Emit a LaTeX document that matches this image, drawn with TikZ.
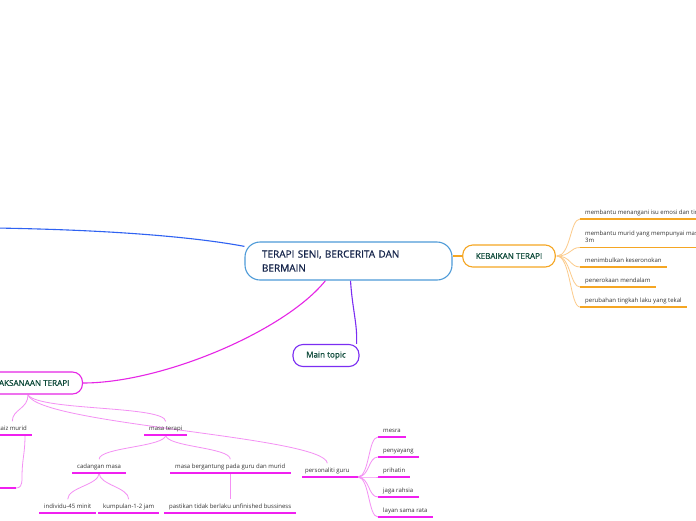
\documentclass[tikz,border=0pt]{standalone}
\usepackage{fontspec}
\setmainfont{Open Sans}
\newfontfamily\semib[FakeBold=0.7]{Open Sans}
\usetikzlibrary{calc}
\definecolor{blu}{HTML}{2F62F2}
\definecolor{cbord}{HTML}{4E9BD8}
\definecolor{ctext}{HTML}{15244A}
\definecolor{orn}{HTML}{F5A623}
\definecolor{ornbr}{HTML}{FCCB8A}
\definecolor{purp}{HTML}{7B2EF2}
\definecolor{mag}{HTML}{E626E6}
\definecolor{magul}{HTML}{F020F0}
\definecolor{magbr}{HTML}{F490F4}
\definecolor{boxtxt}{HTML}{0E4A3A}
\definecolor{leafc}{HTML}{333333}
\pgfdeclarelayer{back}
\pgfdeclarelayer{bg}
\pgfsetlayers{back,bg,main}
\tikzset{
  leaf/.style={font=\fontsize{6}{7.5}\selectfont, text=leafc, inner sep=0pt, anchor=base west},
  topicbox/.style={draw, line width=1.1pt, fill=white, rounded corners=10pt,
    font=\semib\fontsize{8.1}{9}\selectfont, text=boxtxt, inner xsep=13pt, inner ysep=0pt, minimum height=22pt},
  oul/.style={draw=orn, line width=1.3pt},
  obr/.style={draw=ornbr, line width=0.8pt},
  mul/.style={draw=magul, line width=1.3pt},
  mbr/.style={draw=magbr, line width=0.8pt},
}
\newcommand\underln[2]{\draw[#1] ([xshift=-5pt,yshift=-5pt]#2.base west) coordinate (#2-l) -- ([xshift=5pt,yshift=-5pt]#2.base east) coordinate (#2-r);}
\begin{document}
\begin{tikzpicture}[x=1pt,y=-1pt]
\useasboundingbox (0,0) rectangle (696,520);
\clip (0,0) rectangle (696,520);
\begin{pgfonlayer}{back}
\fill[white] (0,0) rectangle (696,520);
\end{pgfonlayer}

% central
\node[draw=cbord, line width=1.1pt, fill=white, rounded corners=15pt, text width=173pt, align=left,
  inner xsep=17pt, minimum height=38pt, font=\semib\fontsize{10}{14}\selectfont, text=ctext] (c) at (348.5,261)
  {TERAPI SENI, BERCERITA DAN\\BERMAIN};

% main branches
\node[topicbox, draw=orn, minimum width=92pt] (kb) at (509,256) {KEBAIKAN TERAPI};
\node[topicbox, draw=purp, minimum width=66pt] (mt) at (326,355.5) {Main topic};
\node[topicbox, draw=mag, anchor=east] (pl) at (83,383) {PELAKSANAAN TERAPI};
\coordinate (offl) at (-5,228);
\coordinate (plj) at (28,395);

% kebaikan leaves
\node[leaf] (k1) at (585,214) {membantu menangani isu emosi dan tingkah laku};
\node[leaf] (k2) at (585,235) {membantu murid yang mempunyai masalah};
\node[leaf] (k2b) at (585,242.5) {3m};
\node[leaf] (k3) at (585,262) {menimbulkan keseronokan};
\node[leaf] (k4) at (585,282) {penerokaan mendalam};
\node[leaf] (k5) at (585,302) {perubahan tingkah laku yang tekal};
\underln{oul}{k1}
\draw[oul] ([xshift=-5pt,yshift=-5pt]k2b.base west) coordinate (k2b-l) -- ++(130,0);
\underln{oul}{k3}
\underln{oul}{k4}
\underln{oul}{k5}

% pelaksanaan subtree
\node[leaf, anchor=base east] (sz) at (27,430) {saiz murid};
\node[leaf] (mtp) at (149,430) {masa terapi};
\node[leaf] (pg) at (305,472) {personaliti guru};
\node[leaf] (cm) at (77,468) {cadangan masa};
\node[leaf] (mb) at (175,468) {masa bergantung pada guru dan murid};
\node[leaf] (i1) at (44,508) {individu-45 minit};
\node[leaf] (i2) at (103,508) {kumpulan-1-2 jam};
\node[leaf] (pt) at (169,508) {pastikan tidak berlaku unfinished bussiness};
\node[leaf] (p1) at (383,432) {mesra};
\node[leaf] (p2) at (383,452) {penyayang};
\node[leaf] (p3) at (383,472) {prihatin};
\node[leaf] (p4) at (383,492) {jaga rahsia};
\node[leaf] (p5) at (383,512) {layan sama rata};
\underln{mul}{sz}
\underln{mul}{mtp}
\draw[mul] ([xshift=-3pt,yshift=-5pt]pg.base west) coordinate (pg-l) -- ([xshift=8pt,yshift=-5pt]pg.base east) coordinate (pg-r);
\underln{mul}{cm}
\underln{mul}{mb}
\underln{mul}{i1}
\underln{mul}{i2}
\underln{mul}{pt}
\underln{mul}{p1}
\underln{mul}{p2}
\underln{mul}{p3}
\underln{mul}{p4}
\underln{mul}{p5}
\coordinate (szc) at (16,488);
\draw[mul] (szc) -- (-5,488);

\begin{pgfonlayer}{bg}
  % main connectors
  \draw[blu, line width=1.1pt] (offl) .. controls (120,230) and (200,238) .. (c.172);
  \draw[orn, line width=1.1pt] (kb.west -| c.east) -- (kb.west);
  \draw[purp, line width=1.1pt] ([xshift=2pt]c.south) .. controls +(2,30) and +(1,-20) .. ([xshift=-3pt]mt.north east);
  \draw[mag, line width=1.1pt] ([xshift=-23pt]c.south) .. controls +(-40,50) and +(80,0) .. (pl.east);
  % kebaikan branches
  \foreach \n in {k1,k2b,k3,k4,k5}
    \draw[obr] ([xshift=1pt]kb.east) .. controls +(14,0) and +(-10,0) .. (\n-l);
  % pelaksanaan branches
  \draw[mbr] (plj) .. controls +(0,14) and +(0,-12) .. ([yshift=4pt]sz.north);
  \draw[mbr] (plj) .. controls +(12,16) and +(-1,-16) .. ([yshift=4pt]mtp.north);
  \draw[mbr] (plj) .. controls +(12,30) and +(-3,-27) .. ([yshift=4pt]pg.north);
  \draw[mbr] ([xshift=-7pt]sz-r) .. controls +(0,20) and +(0,-20) .. ($(szc)+(6,-10)$) .. controls +(0,8) and +(4,0) .. (szc);
  \coordinate (mtpm) at ($(mtp-l)!0.5!(mtp-r)$);
  \draw[mbr] (mtpm) .. controls +(0,12) and +(0,-12) .. ([yshift=4pt]cm.north);
  \draw[mbr] (mtpm) .. controls +(0,12) and +(0,-12) .. ([yshift=4pt]mb.north);
  \coordinate (cmm) at ($(cm-l)!0.5!(cm-r)$);
  \draw[mbr] (cmm) .. controls +(0,12) and +(0,-12) .. ([yshift=4pt]i1.north);
  \draw[mbr] (cmm) .. controls +(0,12) and +(0,-12) .. ([yshift=4pt]i2.north);
  \coordinate (mbm) at ($(mb-l)!0.5!(mb-r)$);
  \draw[mbr] (mbm) -- ([yshift=4pt]mbm |- pt.north);
  \foreach \n in {p1,p2,p3,p4,p5}
    \draw[mbr] (pg-r) .. controls +(12,0) and +(-10,0) .. (\n-l);
\end{pgfonlayer}
\end{tikzpicture}
\end{document}
